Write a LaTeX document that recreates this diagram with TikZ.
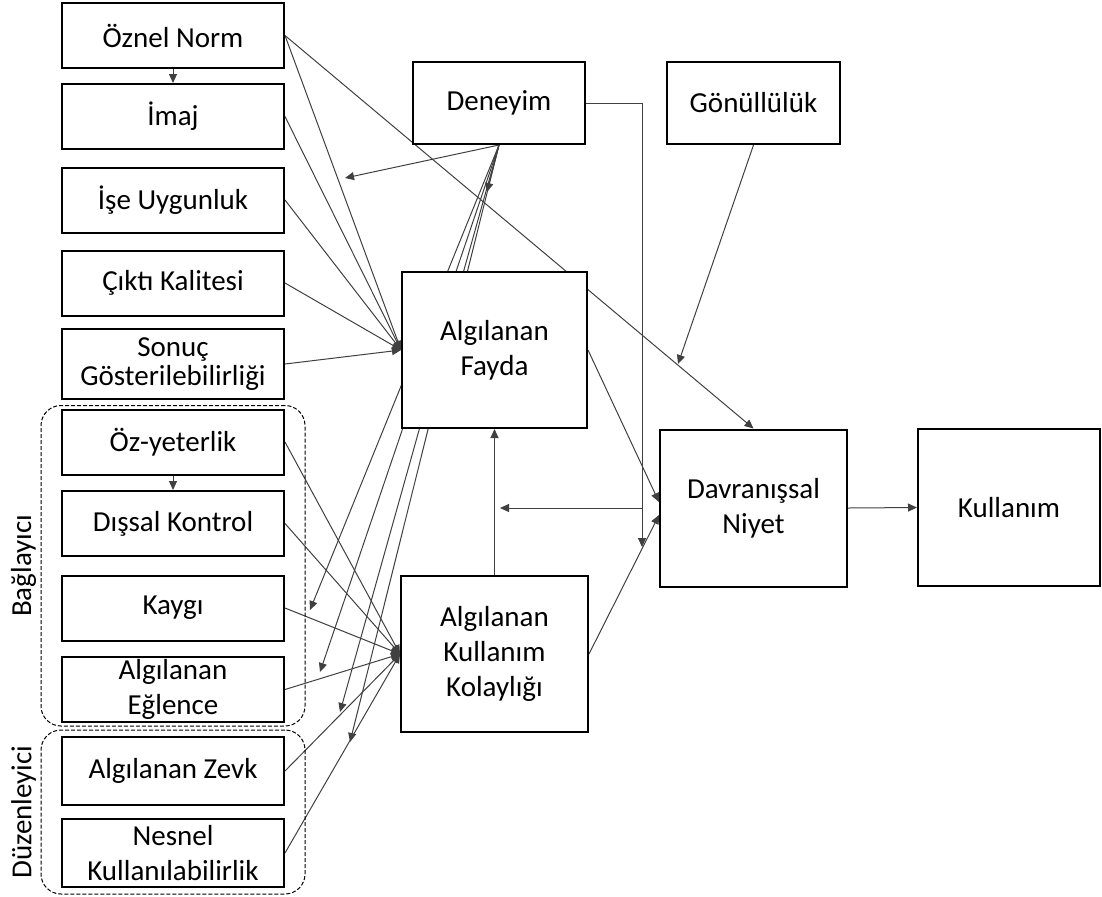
\documentclass[tikz,border=0pt]{standalone}
\usepackage{fontspec}
\setmainfont{Carlito}
\usetikzlibrary{arrows.meta,backgrounds,fit}

\definecolor{linegray}{rgb}{0.25, 0.25, 0.25}

\begin{document}
\begin{tikzpicture}[x=0.5pt, y=-0.5pt,
  box/.style={draw, line width=1pt, fill=white, align=center, inner sep=1pt,
    font=\fontsize{14.5}{17.5}\selectfont},
  leftbox/.style={box, minimum width=111pt, minimum height=32.5pt},
  link/.style={line width=0.5pt, draw=linegray, -{Triangle[length=4.5pt, width=4pt]}},
  group/.style={draw, dash pattern=on 2pt off 1pt, rounded corners=10pt,
    line width=0.5pt, inner xsep=10pt},
  grouplabel/.style={rotate=90, anchor=south, inner sep=2pt,
    font=\fontsize{14.5}{17.5}\selectfont}]

  \useasboundingbox (0,0) rectangle (1102,896);

  % Parameters
  \def\lx{173}    % Left column x
  \def\mx{494.5}  % Middle column x
  \def\rx{753.5}  % Right column x

  % Left column
  \node[leftbox] (oznel) at (\lx,35.5) {Öznel Norm};
  \node[leftbox] (imaj) at (\lx,116.5) {İmaj};
  \node[leftbox] (ise) at (\lx,200) {İşe Uygunluk};
  \node[leftbox] (cikti) at (\lx,283) {Çıktı Kalitesi};
  \node[leftbox, minimum height=35pt, font=\fontsize{14.5}{14.5}\selectfont]
    (sonuc) at (\lx,364) {Sonuç\\Gösterilebilirliği};
  \node[leftbox] (ozyet) at (\lx,442) {Öz-yeterlik};
  \node[leftbox] (dissal) at (\lx,523.5) {Dışsal Kontrol};
  \node[leftbox] (kaygi) at (\lx,608) {Kaygı};
  \node[leftbox] (eglence) at (\lx,689.5) {Algılanan\\Eğlence};
  \node[leftbox, minimum height=34pt] (zevk) at (\lx,771) {Algılanan Zevk};
  \node[leftbox, minimum height=34pt] (nesnel) at (\lx,853) {Nesnel\\Kullanılabilirlik};

  % Groups
  \node[group, inner ysep=1.5pt, fit=(ozyet)(eglence)] (baglayici) {};
  \node[group, inner ysep=3pt, fit=(zevk)(nesnel)] (duzenleyici) {};
  \node[grouplabel] (lblbag) at (baglayici.west) {Bağlayıcı};
  \node[grouplabel] (lblduz) at (duzenleyici.west) {Düzenleyici};

  % Middle and right
  \node[box, minimum width=86pt, minimum height=41pt] (deneyim) at (499,103) {Deneyim};
  \node[box, minimum width=86.5pt, minimum height=41pt] (gonullu) at (\rx,103) {Gönüllülük};
  \node[box, minimum width=92.5pt, minimum height=78pt] (fayda) at (\mx,350) {Algılanan\\Fayda};
  \node[box, minimum width=93.5pt, minimum height=78pt] (kolaylik) at (\mx,654) {Algılanan\\Kullanım\\Kolaylığı};
  \node[box, minimum width=93.5pt, minimum height=78.5pt] (niyet) at (\rx,508) {Davranışsal\\Niyet};
  \node[box, minimum width=91pt, minimum height=78.5pt] (kullanim) at (1009,507.5) {Kullanım};

  % Moderation points
  \coordinate (modsn) at (345,178);
  \coordinate (modtop) at (487,192);
  \coordinate (modkaygi) at (310,610);
  \coordinate (modeglence) at (320,672);
  \coordinate (modzevk) at (340,712);
  \coordinate (modnesnel) at (350,742);
  \coordinate (modvol) at (678,364);
  \coordinate (modbi) at (642,547);
  \coordinate (split) at (642,508);
  \coordinate (modpu) at (500,508);

  \begin{scope}[on background layer]
    % Into Fayda
    \foreach \src in {oznel,imaj,ise,cikti,sonuc}
      \draw[link] (\src.east) -- (fayda.west);
    % Into Kolaylik
    \foreach \src in {ozyet,dissal,kaygi,eglence,zevk,nesnel}
      \draw[link] (\src.east) -- (kolaylik.west);
    % Short ones
    \draw[link] (oznel.south) -- (imaj.north);
    \draw[link] (ozyet.south) -- (dissal.north);
    % Deneyim
    \foreach \dst in {modsn,modtop,modkaygi,modeglence,modzevk,modnesnel}
      \draw[link] (deneyim.south) -- (\dst);
    \draw[link] (deneyim.east) -| (modbi);
    \draw[link] (split) -- (modpu);
    % Gonullu
    \draw[link] (gonullu.south) -- (modvol);
    % Main paths
    \draw[link] (oznel.east) -- (niyet.north);
    \draw[link] (kolaylik.north) -- (fayda.south);
    \draw[link] (fayda.east) -- ([yshift=3pt]niyet.west);
    \draw[link] (kolaylik.east) -- ([yshift=-3.5pt]niyet.west);
    \draw[link] (niyet.east) -- (kullanim.west);
  \end{scope}
\end{tikzpicture}
\end{document}
